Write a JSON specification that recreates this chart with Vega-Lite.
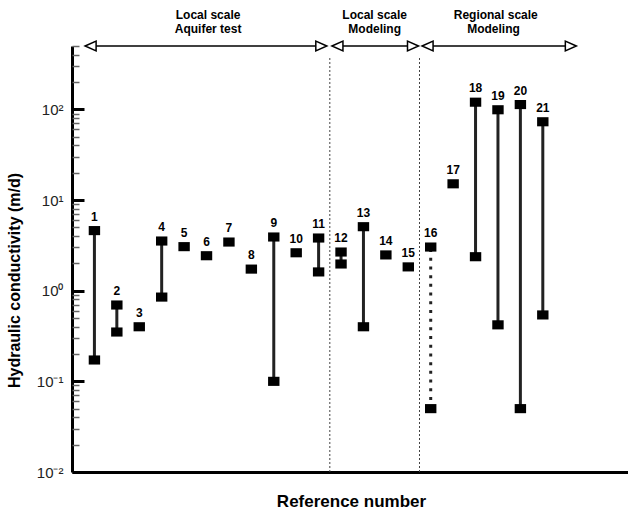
{
  "$schema": "https://vega.github.io/schema/vega-lite/v6.json",
  "width": 556,
  "height": 426,
  "autosize": {"type": "none"},
  "padding": {"left": 72, "top": 46, "right": 0, "bottom": 39},
  "config": {"view": {"stroke": null}, "font": "Liberation Sans"},
  "resolve": {"axis": {"y": "independent"}},
  "datasets": {
    "markers": [
      {"ref": 1, "k": 4.6}, {"ref": 1, "k": 0.172},
      {"ref": 2, "k": 0.695}, {"ref": 2, "k": 0.35},
      {"ref": 3, "k": 0.4},
      {"ref": 4, "k": 3.53}, {"ref": 4, "k": 0.85},
      {"ref": 5, "k": 3.06},
      {"ref": 6, "k": 2.43},
      {"ref": 7, "k": 3.44},
      {"ref": 8, "k": 1.73},
      {"ref": 9, "k": 3.91}, {"ref": 9, "k": 0.1},
      {"ref": 10, "k": 2.62},
      {"ref": 11, "k": 3.81}, {"ref": 11, "k": 1.61},
      {"ref": 12, "k": 2.67}, {"ref": 12, "k": 1.97},
      {"ref": 13, "k": 5.08}, {"ref": 13, "k": 0.4},
      {"ref": 14, "k": 2.48},
      {"ref": 15, "k": 1.83},
      {"ref": 16, "k": 3.03}, {"ref": 16, "k": 0.05},
      {"ref": 17, "k": 15.1},
      {"ref": 18, "k": 120}, {"ref": 18, "k": 2.37},
      {"ref": 19, "k": 99}, {"ref": 19, "k": 0.42},
      {"ref": 20, "k": 113}, {"ref": 20, "k": 0.05},
      {"ref": 21, "k": 73}, {"ref": 21, "k": 0.54}
    ],
    "ranges": [
      {"ref": 1, "lo": 0.172, "hi": 4.6, "kind": "solid"},
      {"ref": 2, "lo": 0.35, "hi": 0.695, "kind": "solid"},
      {"ref": 4, "lo": 0.85, "hi": 3.53, "kind": "solid"},
      {"ref": 9, "lo": 0.1, "hi": 3.91, "kind": "solid"},
      {"ref": 11, "lo": 1.61, "hi": 3.81, "kind": "solid"},
      {"ref": 12, "lo": 1.97, "hi": 2.67, "kind": "solid"},
      {"ref": 13, "lo": 0.4, "hi": 5.08, "kind": "solid"},
      {"ref": 16, "lo": 0.05, "hi": 3.03, "kind": "dotted"},
      {"ref": 18, "lo": 2.37, "hi": 120, "kind": "solid"},
      {"ref": 19, "lo": 0.42, "hi": 99, "kind": "solid"},
      {"ref": 20, "lo": 0.05, "hi": 113, "kind": "solid"},
      {"ref": 21, "lo": 0.54, "hi": 73, "kind": "solid"}
    ],
    "tops": [
      {"ref": 1, "k": 4.6}, {"ref": 2, "k": 0.695}, {"ref": 3, "k": 0.4},
      {"ref": 4, "k": 3.53}, {"ref": 5, "k": 3.06}, {"ref": 6, "k": 2.43},
      {"ref": 7, "k": 3.44}, {"ref": 8, "k": 1.73}, {"ref": 9, "k": 3.91},
      {"ref": 10, "k": 2.62}, {"ref": 11, "k": 3.81}, {"ref": 12, "k": 2.67},
      {"ref": 13, "k": 5.08}, {"ref": 14, "k": 2.48}, {"ref": 15, "k": 1.83},
      {"ref": 16, "k": 3.03}, {"ref": 17, "k": 15.1}, {"ref": 18, "k": 120},
      {"ref": 19, "k": 99}, {"ref": 20, "k": 113}, {"ref": 21, "k": 73}
    ],
    "dividers": [
      {"x": 11.5, "lo": 0.01, "hi": 380},
      {"x": 15.5, "lo": 0.01, "hi": 380}
    ],
    "arrows": [
      {"x1": 0.83, "x2": 11.12, "y": 500},
      {"x1": 11.84, "x2": 15.21, "y": 500},
      {"x1": 15.86, "x2": 22.25, "y": 500}
    ],
    "heads": [
      {"x": 0.83, "y": 500, "dir": "left"},
      {"x": 11.12, "y": 500, "dir": "right"},
      {"x": 11.84, "y": 500, "dir": "left"},
      {"x": 15.21, "y": 500, "dir": "right"},
      {"x": 15.86, "y": 500, "dir": "left"},
      {"x": 22.25, "y": 500, "dir": "right"}
    ],
    "headers": [
      {"x": 6.07, "y": 1090, "text": "Local scale"},
      {"x": 6.07, "y": 765, "text": "Aquifer test"},
      {"x": 13.5, "y": 1090, "text": "Local scale"},
      {"x": 13.5, "y": 765, "text": "Modeling"},
      {"x": 18.9, "y": 1090, "text": "Regional scale"},
      {"x": 18.8, "y": 765, "text": "Modeling"}
    ]
  },
  "layer": [
    {
      "data": {"name": "dividers"},
      "mark": {"type": "rule", "strokeWidth": 1, "strokeDash": [2, 2], "color": "#444"},
      "encoding": {
        "x": {
          "field": "x", "type": "quantitative",
          "scale": {"domain": [0, 24.8], "nice": false, "zero": false},
          "axis": {
            "labels": false, "ticks": false, "grid": false,
            "domainColor": "black", "domainWidth": 3,
            "title": "Reference number",
            "titleFont": "Liberation Sans", "titleFontSize": 17, "titleFontWeight": "bold",
            "titleColor": "black", "titleX": 279, "titleY": 29, "titleBaseline": "middle", "titleAlign": "center"
          }
        },
        "y": {
          "field": "lo", "type": "quantitative",
          "scale": {"type": "log", "domain": [0.01, 500], "nice": false},
          "axis": {
            "orient": "left",
            "title": "Hydraulic conductivity (m/d)",
            "titleFont": "Liberation Sans", "titleFontSize": 16, "titleFontWeight": "bold",
            "titleColor": "black", "titleX": -58, "titleY": 234, "titleAngle": -90,
            "titleBaseline": "middle", "titleAlign": "center",
            "values": [0.01, 0.1, 1, 10, 100],
            "labelExpr": "datum.value == 0.01 ? '10⁻²' : datum.value == 0.1 ? '10⁻¹' : datum.value == 1 ? '10⁰' : datum.value == 10 ? '10¹' : '10²'",
            "labelFont": "Liberation Sans", "labelFontSize": 15, "labelColor": "#222",
            "ticks": false, "labelPadding": 9, "labelOverlap": false, "labelBound": false, "labelFlush": false,
            "domainColor": "black", "domainWidth": 3, "grid": false
          }
        },
        "y2": {"field": "hi"}
      }
    },
    {
      "data": {"name": "ranges"},
      "mark": {"type": "rule", "strokeWidth": 3, "color": "#222"},
      "encoding": {
        "x": {"field": "ref", "type": "quantitative"},
        "y": {
          "field": "lo", "type": "quantitative",
          "axis": {
            "orient": "right", "offset": -556, "title": null,
            "labels": false, "domain": false, "grid": false,
            "values": [0.01, 0.02, 0.03, 0.04, 0.05, 0.06, 0.07, 0.08, 0.09,
                       0.1, 0.2, 0.3, 0.4, 0.5, 0.6, 0.7, 0.8, 0.9,
                       1, 2, 3, 4, 5, 6, 7, 8, 9,
                       10, 20, 30, 40, 50, 60, 70, 80, 90,
                       100, 200, 300, 400, 500],
            "tickSize": {"condition": {"test": "indexof([0.01, 0.1, 1, 10, 100], datum.value) >= 0", "value": 12}, "value": 7},
            "tickWidth": {"condition": {"test": "indexof([0.01, 0.1, 1, 10, 100], datum.value) >= 0", "value": 3}, "value": 1.5},
            "tickColor": {"condition": {"test": "indexof([0.01, 0.1, 1, 10, 100], datum.value) >= 0", "value": "black"}, "value": "#666"}
          }
        },
        "y2": {"field": "hi"},
        "strokeDash": {
          "field": "kind", "type": "nominal",
          "scale": {"domain": ["solid", "dotted"], "range": [[1, 0], [3, 5.7]]},
          "legend": null
        }
      }
    },
    {
      "data": {"name": "arrows"},
      "mark": {"type": "rule", "strokeWidth": 1.5, "color": "black"},
      "encoding": {
        "x": {"field": "x1", "type": "quantitative"},
        "x2": {"field": "x2"},
        "y": {"field": "y", "type": "quantitative", "axis": null}
      }
    },
    {
      "data": {"name": "heads"},
      "mark": {"type": "point", "filled": true, "fill": "white", "stroke": "black", "strokeWidth": 1.5, "size": 121, "opacity": 1},
      "encoding": {
        "x": {"field": "x", "type": "quantitative"},
        "y": {"field": "y", "type": "quantitative", "axis": null},
        "shape": {
          "field": "dir", "type": "nominal",
          "scale": {"domain": ["left", "right"], "range": ["M-1,0L1,-0.9L1,0.9Z", "M1,0L-1,-0.9L-1,0.9Z"]},
          "legend": null
        }
      }
    },
    {
      "data": {"name": "markers"},
      "mark": {"type": "point", "filled": true, "color": "black", "size": 130, "opacity": 1, "strokeWidth": 0, "shape": "M-1,-0.8L1,-0.8L1,0.8L-1,0.8Z"},
      "encoding": {
        "x": {"field": "ref", "type": "quantitative"},
        "y": {"field": "k", "type": "quantitative", "axis": null}
      }
    },
    {
      "data": {"name": "tops"},
      "mark": {"type": "text", "font": "Liberation Sans", "fontSize": 12, "fontWeight": "bold", "color": "black", "dy": -14, "baseline": "middle", "align": "center"},
      "encoding": {
        "x": {"field": "ref", "type": "quantitative"},
        "y": {"field": "k", "type": "quantitative", "axis": null},
        "text": {"field": "ref", "type": "nominal"}
      }
    },
    {
      "data": {"name": "headers"},
      "mark": {"type": "text", "font": "Liberation Sans", "fontSize": 12, "fontWeight": "bold", "color": "black", "baseline": "middle", "align": "center"},
      "encoding": {
        "x": {"field": "x", "type": "quantitative"},
        "y": {"field": "y", "type": "quantitative", "axis": null},
        "text": {"field": "text", "type": "nominal"}
      }
    }
  ]
}
